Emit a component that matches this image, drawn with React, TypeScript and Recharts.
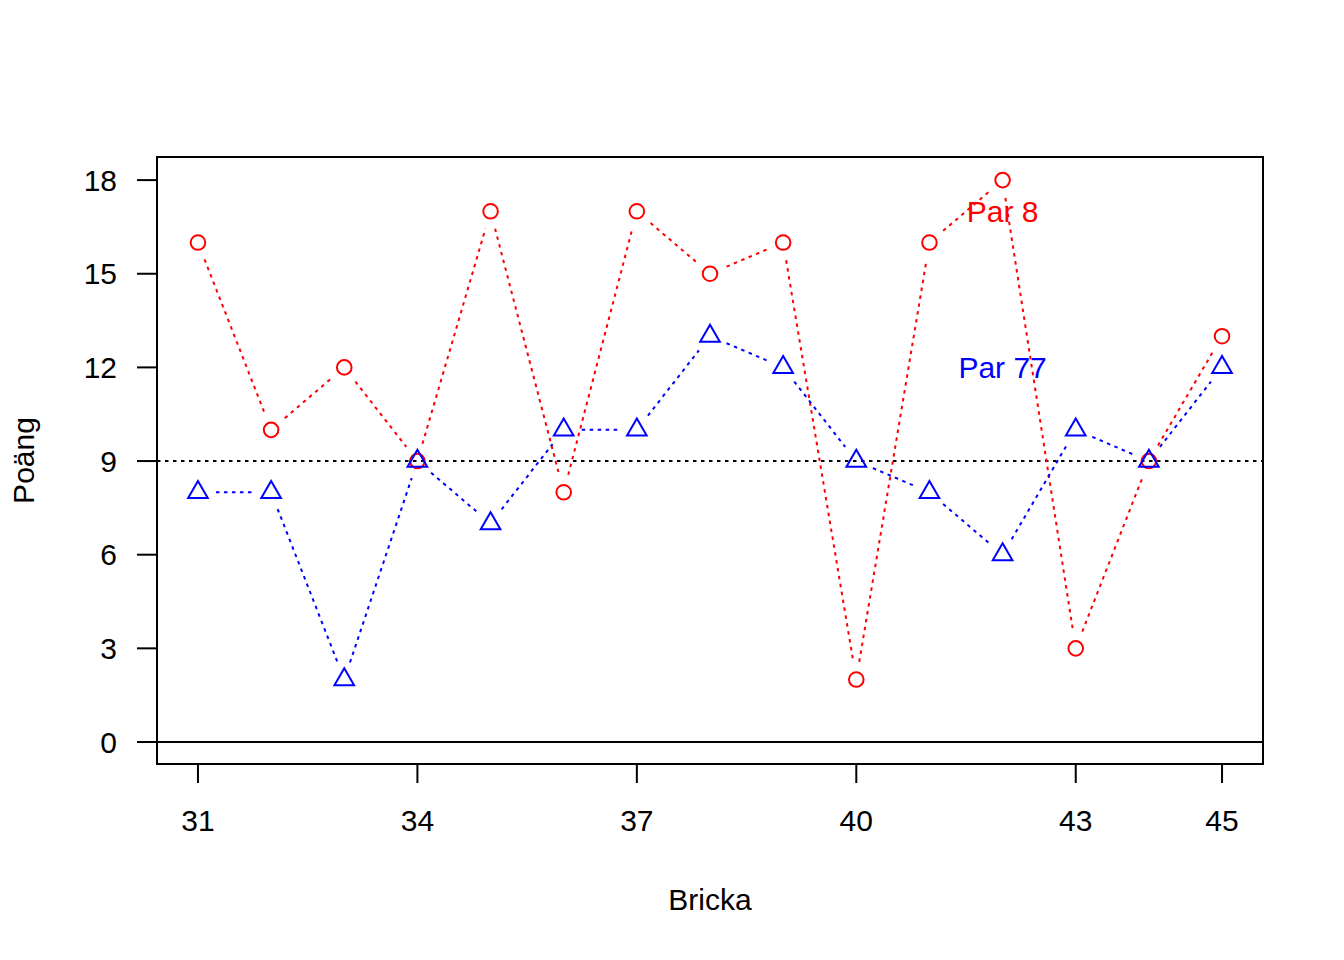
import { LineChart, Line, XAxis, YAxis, ReferenceLine, ReferenceArea, ReferenceDot } from "recharts";

const brickor = [31, 32, 33, 34, 35, 36, 37, 38, 39, 40, 41, 42, 43, 44, 45];
const par8 = [16, 10, 12, 9, 17, 8, 17, 15, 16, 2, 16, 18, 3, 9, 13];
const par77 = [8, 8, 2, 9, 7, 10, 10, 13, 12, 9, 8, 6, 10, 9, 12];
const xTicks = [31, 34, 37, 40, 43, 45];
const yTicks = [0, 3, 6, 9, 12, 15, 18];
const labels = [
  { x: 42, y: 17, text: "Par 8", color: "#FF0000" },
  { x: 42, y: 12, text: "Par 77", color: "#0000FF" },
];

const data = brickor.map((b, i) => ({ x: b, par8: par8[i], par77: par77[i] }));

const FONT = "'Liberation Sans', Arial, Helvetica, sans-serif";
const DOTS = "3.5 4.5";
const GAP = 18; // R type="b": segments stop short of the symbols

// segment to the next point (with gaps, like type="b") plus the symbol itself
function Segment({ cx, cy, index, points, color }: any) {
  const next = points?.[index + 1];
  if (!next) return null;
  const dx = next.x - cx;
  const dy = next.y - cy;
  const len = Math.hypot(dx, dy);
  if (len <= 2 * GAP) return null;
  const ux = dx / len;
  const uy = dy / len;
  return (
    <line
      x1={cx + ux * GAP}
      y1={cy + uy * GAP}
      x2={next.x - ux * GAP}
      y2={next.y - uy * GAP}
      stroke={color}
      strokeWidth={2}
      strokeDasharray={DOTS}
    />
  );
}

function CircleDot(props: any) {
  const { cx, cy } = props;
  if (cx == null || cy == null) return null;
  return (
    <g>
      <Segment {...props} color="#FF0000" />
      <circle cx={cx} cy={cy} r={7.3} fill="none" stroke="#FF0000" strokeWidth={2} />
    </g>
  );
}

function TriangleDot(props: any) {
  const { cx, cy } = props;
  if (cx == null || cy == null) return null;
  const k = 7.3;
  const pts = `${cx},${cy - 1.555 * k} ${cx + 1.347 * k},${cy + 0.778 * k} ${cx - 1.347 * k},${cy + 0.778 * k}`;
  return (
    <g>
      <Segment {...props} color="#0000FF" />
      <polygon points={pts} fill="none" stroke="#0000FF" strokeWidth={2} />
    </g>
  );
}

export default function App() {
  return (
    <div style={{ position: "absolute", left: 0, top: 0, width: 1344, height: 960, background: "#fff", fontFamily: FONT }}>
      <LineChart width={1344} height={960} data={data} margin={{ top: 157, right: 81, bottom: 0, left: 0 }}>
        <XAxis
          dataKey="x"
          type="number"
          domain={[30.44, 45.56]}
          ticks={xTicks}
          allowDataOverflow
          height={196}
          axisLine={false}
          tickSize={19}
          tickMargin={27}
          tickLine={{ stroke: "#000", strokeWidth: 2 }}
          tick={{ fill: "#000", fontSize: 30, fontFamily: FONT }}
          label={{
            content: ({ viewBox }: any) => (
              <text x={viewBox.x + viewBox.width / 2} y={910} textAnchor="middle" fontSize={30} fontFamily={FONT} fill="#000">
                Bricka
              </text>
            ),
          }}
        />
        <YAxis
          type="number"
          domain={[-0.705, 18.74]}
          ticks={yTicks}
          allowDataOverflow
          width={157}
          axisLine={false}
          tickSize={20}
          tickMargin={20}
          tickLine={{ stroke: "#000", strokeWidth: 2 }}
          tick={{ fill: "#000", fontSize: 30, fontFamily: FONT }}
          label={{
            content: ({ viewBox }: any) => {
              const cy = viewBox.y + viewBox.height / 2;
              return (
                <text x={34} y={cy} transform={`rotate(-90, 34, ${cy})`} textAnchor="middle" fontSize={30} fontFamily={FONT} fill="#000">
                  Poäng
                </text>
              );
            },
          }}
        />
        <ReferenceArea x1={30.44} x2={45.56} y1={-0.705} y2={18.74} fill="none" stroke="#000" strokeWidth={2} ifOverflow="visible" />
        <ReferenceLine y={0} stroke="#000" strokeWidth={2} />
        <ReferenceLine y={9} stroke="#000" strokeWidth={2} strokeDasharray={DOTS} />
        <Line dataKey="par8" stroke="none" isAnimationActive={false} dot={<CircleDot />} activeDot={false} />
        <Line dataKey="par77" stroke="none" isAnimationActive={false} dot={<TriangleDot />} activeDot={false} />
        {labels.map((l) => (
          <ReferenceDot
            key={l.text}
            x={l.x}
            y={l.y}
            r={0}
            fill="none"
            stroke="none"
            label={{ value: l.text, position: "center", fill: l.color, fontSize: 30, fontFamily: FONT }}
          />
        ))}
      </LineChart>
    </div>
  );
}
